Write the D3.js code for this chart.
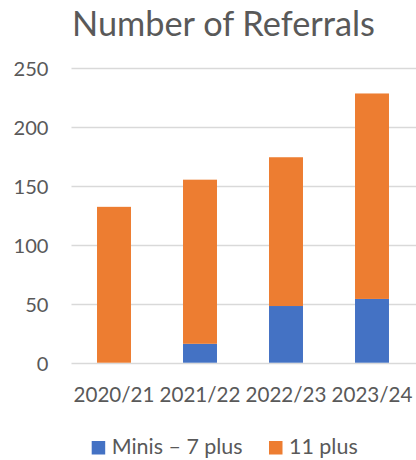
<!DOCTYPE html>
<html><head><meta charset="utf-8">
<script src="https://cdn.jsdelivr.net/npm/d3@7"></script>
<style>body{margin:0;background:#fff}svg{display:block}</style>
</head><body>
<script>
const categories = ["2020/21","2021/22","2022/23","2023/24"];
const minis = [0,16,48,54];
const elevenPlus = [132,139,126,174];
const seriesNames = ["Minis – 7 plus","11 plus"];
const yTicks = [0,50,100,150,200,250];
const title = "Number of Referrals";

const W=416,H=460;
const font="Lato, 'Open Sans', sans-serif";
const svg=d3.select("body").append("svg").attr("width",W).attr("height",H);
const x=d3.scaleBand().domain(categories).range([71,415]).paddingInner(0.605).paddingOuter(0.3025);
const y=d3.scaleLinear().domain([0,250]).range([362.7,67.5]);

function fitSize(txt,fs0,target){const t=svg.append("text").attr("font-family",font).attr("font-size",fs0).text(txt);const w=t.node().getComputedTextLength();t.remove();return fs0*target/w;}
const tickFs=fitSize("250",20,35);
const xFs=fitSize("2020/21",20,81);
const legFs=fitSize("Minis – 7 plus",20,131);
const titleFs=fitSize(title,32,303);

svg.append("g").selectAll("line").data(yTicks).join("line")
 .attr("x1",71.5).attr("x2",416).attr("y1",d=>Math.round(y(d))+0.5).attr("y2",d=>Math.round(y(d))+0.5)
 .attr("stroke","#d9d9d9").attr("stroke-width",1.3);

const data=categories.map((c,i)=>({cat:c,minis:minis[i],eleven:elevenPlus[i]}));
const stack=d3.stack().keys(["minis","eleven"])(data);
const colors=["#4472C4","#ED7D31"];
svg.append("g").selectAll("g").data(stack).join("g").attr("fill",(d,i)=>colors[i])
 .selectAll("rect").data(d=>d).join("rect")
 .attr("x",d=>x(d.data.cat)).attr("width",x.bandwidth())
 .attr("y",d=>y(d[1])).attr("height",d=>y(d[0])-y(d[1]));

svg.append("g").selectAll("text").data(yTicks).join("text")
 .attr("x",48.5).attr("y",d=>y(d)+8.5).attr("text-anchor","end")
 .attr("font-family",font).attr("font-size",tickFs).attr("fill","#595959").text(d=>d);
svg.append("g").selectAll("text").data(categories).join("text")
 .attr("x",d=>x(d)+x.bandwidth()/2).attr("y",401.5).attr("text-anchor","middle")
 .attr("font-family",font).attr("font-size",xFs).attr("fill","#595959").text(d=>d);
svg.append("text").attr("x",223.5).attr("y",35.5).attr("text-anchor","middle")
 .attr("font-family",font).attr("font-size",titleFs).attr("fill","#595959").text(title);
const lg=svg.append("g");
const lx=[91.7,269];
seriesNames.forEach((s,i)=>{
 lg.append("rect").attr("x",lx[i]).attr("y",441).attr("width",13.5).attr("height",13.5).attr("fill",colors[i]);
 lg.append("text").attr("x",lx[i]+20).attr("y",454).attr("font-family",font).attr("font-size",legFs).attr("fill","#595959").text(s);
});
</script>
</body></html>
